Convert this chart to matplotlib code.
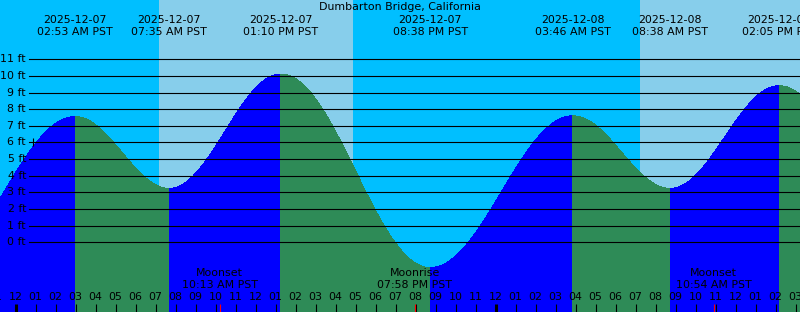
import numpy as np
import matplotlib
matplotlib.use('Agg')
import matplotlib.pyplot as plt
from matplotlib import transforms

# --- data -------------------------------------------------------------
station = "Dumbarton Bridge, California"

# tide extremes, hours after 2025-12-07 00:00 PST (first/last lie off the chart)
tide_hours = [-4.3, 2.883, 7.583, 13.167, 20.633, 27.767, 32.633, 38.083, 45.4]
tide_ft = [-1.6, 7.55, 3.24, 10.11, -1.52, 7.6, 3.24, 9.41, -1.3]
tide_dates = ["2025-12-07", "2025-12-07", "2025-12-07", "2025-12-07",
              "2025-12-08", "2025-12-08", "2025-12-08"]
tide_times = ["02:53 AM PST", "07:35 AM PST", "01:10 PM PST", "08:38 PM PST",
              "03:46 AM PST", "08:38 AM PST", "02:05 PM PST"]

sunrise_hours = [7.18, 31.2]
sunset_hours = [16.87, 40.87]

moon_hours = [10.217, 19.967, 34.9]
moon_events = ["Moonset", "Moonrise", "Moonset"]
moon_times = ["10:13 AM PST", "07:58 PM PST", "10:54 AM PST"]

depth_ticks = list(range(0, 12))
hour_ticks = list(range(-1, 41))
marker_hour, marker_ft = 0.85, (5.8, 6.27)

# --- colours ----------------------------------------------------------
NIGHT = "#00BFFF"
DAY = "#87CEEB"
RISE = "#0000FF"
FALL = "#2E8B57"
FS = 7.9

W, H = 800, 312
PX_HOUR = 20.0
X0 = 15.5           # pixel of midnight 2025-12-07
Y0 = 242.3          # pixel of 0 ft
PX_FT = 16.64

fig = plt.figure(figsize=(W / 100, H / 100), dpi=100)
ax = fig.add_axes([0, 0, 1, 1])
ax.set_xlim(-X0 / PX_HOUR, (W - X0) / PX_HOUR)
ax.set_ylim(-(H - Y0) / PX_FT, Y0 / PX_FT)
ax.axis('off')
fig.patch.set_facecolor(NIGHT)
ax.add_patch(plt.Rectangle((0, 0), 1, 1, transform=ax.transAxes,
                           color=NIGHT, zorder=0, lw=0))

# daylight
for rise, sset in zip(sunrise_hours, sunset_hours):
    ax.axvspan(rise, sset, color=DAY, lw=0, zorder=0.5)

# tide curve is drawn 2px right of the time ticks
tide_tr = transforms.offset_copy(ax.transData, fig=fig, x=2, y=0, units='dots')

for i in range(len(tide_hours) - 1):
    t0, t1 = tide_hours[i], tide_hours[i + 1]
    h0, h1 = tide_ft[i], tide_ft[i + 1]
    ts = np.linspace(t0, t1, 400)
    hs = h0 + (h1 - h0) * (1 - np.cos(np.pi * (ts - t0) / (t1 - t0))) / 2
    ax.fill_between(ts, hs, -20, color=RISE if h1 > h0 else FALL, lw=0,
                    antialiased=False, transform=tide_tr, zorder=1)

# depth lines and labels
lbl_tr = transforms.blended_transform_factory(fig.transFigure, ax.transData)
for d in depth_ticks:
    ax.axhline(d, xmin=29 / W, xmax=1, color='black', lw=0.8, zorder=2)
    ax.text(26 / W, d, f"{d} ft", transform=lbl_tr, ha='right', va='center',
            fontsize=FS, zorder=3)

ax.vlines(marker_hour, marker_ft[0], marker_ft[1], color='black', lw=0.8, zorder=3)

# top labels
ax.text(0.5, 1 - 7.5 / H, station, transform=fig.transFigure, ha='center',
        va='center', fontsize=FS)
top_tr = transforms.blended_transform_factory(tide_tr, fig.transFigure)
for t, d, tm in zip(tide_hours[1:-1], tide_dates, tide_times):
    ax.text(t, 1 - 20 / H, d, transform=top_tr, ha='center', va='center', fontsize=FS)
    ax.text(t, 1 - 32 / H, tm, transform=top_tr, ha='center', va='center', fontsize=FS)

# bottom: moon events, hour labels, ticks
bot_tr = transforms.blended_transform_factory(ax.transData, fig.transFigure)
for t, ev, tm in zip(moon_hours, moon_events, moon_times):
    ax.text(t, 1 - 273 / H, ev, transform=bot_tr, ha='center', va='center', fontsize=FS)
    ax.text(t, 1 - 285.5 / H, tm, transform=bot_tr, ha='center', va='center', fontsize=FS)

for h in hour_ticks:
    hh = h % 12
    ax.text(h, 1 - 297.5 / H, f"{hh if hh else 12:02d}", transform=bot_tr,
            ha='center', va='center', fontsize=FS, zorder=3)
    thick = h % 24 == 0
    ax.plot([h, h], [1 - 304 / H, 0], transform=bot_tr, color='black',
            lw=2.2 if thick else 0.8, solid_capstyle='butt', zorder=3)

for t in moon_hours:
    ax.plot([t, t], [1 - 304 / H, 0], transform=bot_tr, color='red', lw=0.8,
            solid_capstyle='butt', zorder=4)

fig.savefig('out.png', dpi=100, facecolor=NIGHT)
